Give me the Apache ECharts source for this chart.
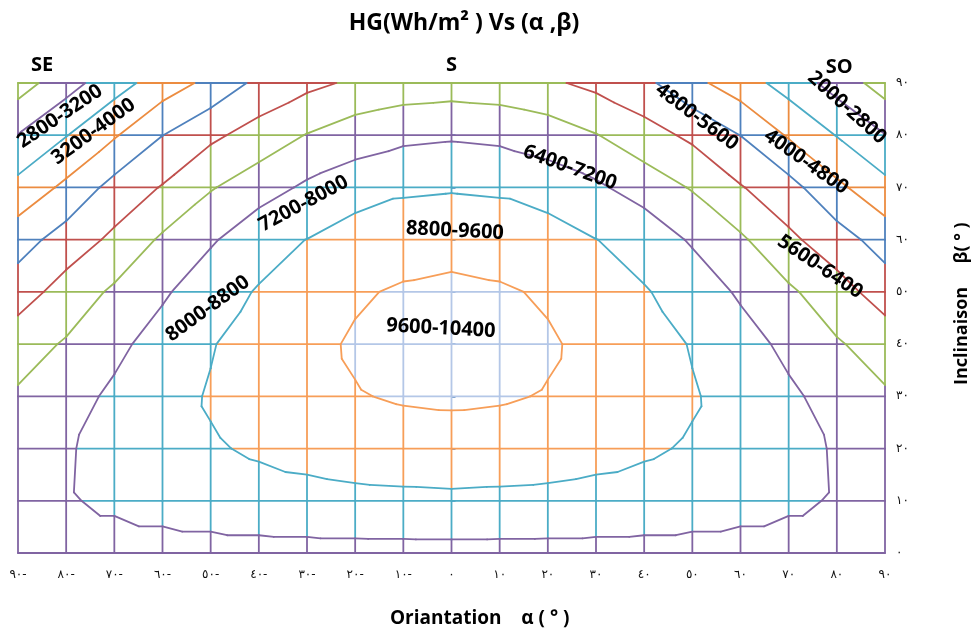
<!DOCTYPE html>
<html>
<head>
<meta charset="utf-8">
<title>HG vs orientation and inclination</title>
<script src="https://cdn.jsdelivr.net/npm/echarts@6/dist/echarts.min.js"></script>
<style>
  html, body { margin: 0; padding: 0; background: #ffffff; }
  #chart { width: 973px; height: 634px; }
</style>
</head>
<body>
<div id="chart"></div>
<script>
// Orientation (alpha, degrees) along x and inclination (beta, degrees) along y
const orientation = [-90, -80, -70, -60, -50, -40, -30, -20, -10, 0, 10, 20, 30, 40, 50, 60, 70, 80, 90];
const inclination = [0, 10, 20, 30, 40, 50, 60, 70, 80, 90];

// Tick labels (Arabic-Indic digits)
const xTickLabels = ['٩٠-', '٨٠-', '٧٠-', '٦٠-', '٥٠-', '٤٠-', '٣٠-', '٢٠-', '١٠-', '٠',
                     '١٠', '٢٠', '٣٠', '٤٠', '٥٠', '٦٠', '٧٠', '٨٠', '٩٠'];
const yTickLabels = ['٠', '١٠', '٢٠', '٣٠', '٤٠', '٥٠', '٦٠', '٧٠', '٨٠', '٩٠'];

// HG (Wh/m²) for each inclination row, one value per orientation
const hgBeta0  = [7770, 7770, 7770, 7770, 7770, 7770, 7770, 7770, 7770, 7770, 7770, 7770, 7770, 7770, 7770, 7770, 7770, 7770, 7770];
const hgBeta10 = [7680, 7956, 8094, 8221, 8331, 8446, 8512, 8591, 8622, 8655, 8622, 8591, 8512, 8446, 8331, 8221, 8094, 7956, 7680];
const hgBeta20 = [7500, 7939, 8230, 8450, 8711, 8918, 9088, 9206, 9280, 9290, 9280, 9206, 9088, 8918, 8711, 8450, 8230, 7939, 7500];
const hgBeta30 = [7295, 7645, 8167, 8420, 8882, 9150, 9380, 9560, 9670, 9715, 9670, 9560, 9380, 9150, 8882, 8420, 8167, 7645, 7295];
const hgBeta40 = [6862, 7275, 7770, 8390, 8730, 9313, 9402, 9685, 9880, 9950, 9880, 9685, 9402, 9313, 8730, 8390, 7770, 7275, 6862];
const hgBeta50 = [6022, 6730, 7330, 7870, 8554, 8843, 9180, 9508, 9692, 9797, 9692, 9508, 9180, 8843, 8554, 7870, 7330, 6730, 6022];
const hgBeta60 = [5254, 5950, 6565, 7322, 7894, 8556, 8810, 9198, 9230, 9280, 9230, 9198, 8810, 8556, 7894, 7322, 6565, 5950, 5254];
const hgBeta70 = [4245, 4970, 5878, 6452, 7140, 7640, 8135, 8417, 8692, 8741, 8692, 8417, 8135, 7640, 7140, 6452, 5878, 4970, 4245];
const hgBeta80 = [3224, 3970, 4719, 5590, 6238, 6729, 7236, 7631, 7816, 7899, 7816, 7631, 7236, 6729, 6238, 5590, 4719, 3970, 3224];
const hgBeta90 = [2030, 2885, 3677, 4380, 5011, 5800, 6204, 6525, 6754, 6824, 6754, 6525, 6204, 5800, 5011, 4380, 3677, 2885, 2030];

// Band width of the contour levels and the colour of each band (index = floor(HG / bandStep))
const bandStep = 800;
const bandColors = ['#4F81BD', '#C0504D', '#9BBB59', '#8064A2', '#4BACC6', '#EC8C40',
                    '#4F81BD', '#C0504D', '#9BBB59', '#8064A2', '#4BACC6', '#F79E58', '#B4C7E7'];

// Band annotations drawn on the chart
const bandLabels = ['2800-3200', '3200-4000', '7200-8000', '8800-9600', '9600-10400', '6400-7200',
                    '4800-5600', '2000-2800', '4000-4800', '5600-6400', '8000-8800'];
const compassLabels = ['SE', 'S', 'SO'];

// Placement of annotations: [alpha, beta, rotation in degrees]
const bandLabelPlacement = [
  [-81.3, 83.6, 34], [-74.3, 80.7, 36], [-30.7, 66.9, 28], [0.7, 61.7, -3], [-2.2, 43.0, -3],
  [24.6, 73.8, -20], [50.9, 83.5, -37], [82.1, 85.3, -42], [73.6, 74.9, -35], [76.5, 54.8, -34],
  [-50.6, 46.8, 36]
];
const compassPlacement = [[-85.0, 93.4], [0, 93.4], [80.5, 93.0]];

const hgGrid = [hgBeta0, hgBeta10, hgBeta20, hgBeta30, hgBeta40, hgBeta50, hgBeta60, hgBeta70, hgBeta80, hgBeta90];

function bandOf(z) { return Math.floor(z / bandStep); }

// Wireframe: each grid edge is split where it crosses a band boundary and coloured by band
const segments = [];
function addEdge(a1, b1, z1, a2, b2, z2) {
  const lo = Math.min(z1, z2), hi = Math.max(z1, z2);
  const ts = [0, 1];
  for (let L = Math.ceil(lo / bandStep) * bandStep; L < hi; L += bandStep) {
    if (L > lo) ts.push((L - z1) / (z2 - z1));
  }
  ts.sort((p, q) => p - q);
  for (let k = 0; k < ts.length - 1; k++) {
    const t0 = ts[k], t1 = ts[k + 1];
    const zm = z1 + (z2 - z1) * (t0 + t1) / 2;
    segments.push([a1 + (a2 - a1) * t0, b1 + (b2 - b1) * t0,
                   a1 + (a2 - a1) * t1, b1 + (b2 - b1) * t1, bandOf(zm)]);
  }
}
for (let j = 0; j < inclination.length; j++) {
  for (let i = 0; i < orientation.length - 1; i++) {
    addEdge(orientation[i], inclination[j], hgGrid[j][i], orientation[i + 1], inclination[j], hgGrid[j][i + 1]);
  }
}
for (let i = 0; i < orientation.length; i++) {
  for (let j = 0; j < inclination.length - 1; j++) {
    addEdge(orientation[i], inclination[j], hgGrid[j][i], orientation[i], inclination[j + 1], hgGrid[j + 1][i]);
  }
}

// Contour lines: every cell is split into two triangles, interpolated linearly
function node(i, j) { return [orientation[i], inclination[j], hgGrid[j][i]]; }
function addTriangle(tri) {
  const zs = tri.map(p => p[2]);
  const lo = Math.min(...zs), hi = Math.max(...zs);
  for (let L = Math.ceil(lo / bandStep) * bandStep; L < hi; L += bandStep) {
    if (L <= lo) continue;
    const pts = [];
    for (let e = 0; e < 3; e++) {
      const p = tri[e], q = tri[(e + 1) % 3];
      if ((p[2] - L) * (q[2] - L) < 0) {
        const t = (L - p[2]) / (q[2] - p[2]);
        pts.push([p[0] + (q[0] - p[0]) * t, p[1] + (q[1] - p[1]) * t]);
      }
    }
    if (pts.length === 2) {
      segments.push([pts[0][0], pts[0][1], pts[1][0], pts[1][1], L / bandStep - 1]);
    }
  }
}
for (let i = 0; i < orientation.length - 1; i++) {
  for (let j = 0; j < inclination.length - 1; j++) {
    const bl = node(i, j), br = node(i + 1, j), tl = node(i, j + 1), tr = node(i + 1, j + 1);
    if (orientation[i] < 0) {
      addTriangle([bl, br, tr]);
      addTriangle([bl, tr, tl]);
    } else {
      addTriangle([bl, br, tl]);
      addTriangle([br, tr, tl]);
    }
  }
}

const labelData = bandLabelPlacement.map((p, k) => [p[0], p[1], p[2], k]);
const compassData = compassPlacement.map((p, k) => [p[0], p[1], k]);

const chart = echarts.init(document.getElementById('chart'), null, { renderer: 'canvas' });
const labelFamily = '"Open Sans", "DejaVu Sans", sans-serif';

chart.setOption({
  animation: false,
  backgroundColor: '#ffffff',
  title: {
    text: 'HG(Wh/m² ) Vs (α ,β)',
    left: 459, top: 7, textAlign: 'center',
    textStyle: { fontFamily: labelFamily, fontWeight: 'bold', fontSize: 23, color: '#000' }
  },
  grid: { left: 18, top: 83, width: 867, height: 470 },
  xAxis: {
    type: 'value', min: -90, max: 90, interval: 10,
    axisLine: { show: false }, axisTick: { show: false }, splitLine: { show: false },
    axisLabel: {
      margin: 16, fontFamily: 'DejaVu Sans', fontSize: 12, color: '#111',
      formatter: v => xTickLabels[orientation.indexOf(v)]
    }
  },
  yAxis: {
    type: 'value', position: 'right', min: 0, max: 90, interval: 10,
    axisLine: { show: false },
    axisTick: { show: true, length: 4, lineStyle: { color: '#4F81BD', width: 1.5 } },
    splitLine: { show: false },
    axisLabel: {
      margin: 11, fontFamily: 'DejaVu Sans', fontSize: 12, color: '#111',
      formatter: v => yTickLabels[inclination.indexOf(v)]
    }
  },
  graphic: [
    { type: 'text', left: 390, top: 609,
      style: { text: 'Oriantation    α ( ° )', fontFamily: labelFamily, fontWeight: 'bold', fontSize: 19, fill: '#000' } },
    { type: 'text', x: 953, y: 385, rotation: Math.PI / 2,
      style: { text: 'Inclinaison     β( ° )', fontFamily: labelFamily, fontWeight: 'bold', fontSize: 18, fill: '#000' } }
  ],
  series: [
    {
      type: 'custom',
      coordinateSystem: 'cartesian2d',
      encode: { x: [0, 2], y: [1, 3] },
      progressive: 0,
      silent: true,
      data: segments,
      renderItem: (params, api) => {
        const p1 = api.coord([api.value(0), api.value(1)]);
        const p2 = api.coord([api.value(2), api.value(3)]);
        return {
          type: 'line',
          shape: { x1: p1[0], y1: p1[1], x2: p2[0], y2: p2[1] },
          style: { stroke: bandColors[api.value(4)], lineWidth: 1.8, lineCap: 'round' }
        };
      }
    },
    {
      type: 'custom',
      coordinateSystem: 'cartesian2d',
      encode: { x: 0, y: 1 },
      silent: true,
      z: 5,
      data: labelData,
      renderItem: (params, api) => {
        const p = api.coord([api.value(0), api.value(1)]);
        return {
          type: 'text', x: p[0], y: p[1], rotation: api.value(2) * Math.PI / 180,
          style: {
            text: bandLabels[api.value(3)], fontFamily: labelFamily, fontWeight: 'bold',
            fontSize: 20, fill: '#000', align: 'center', verticalAlign: 'middle'
          }
        };
      }
    },
    {
      type: 'custom',
      coordinateSystem: 'cartesian2d',
      encode: { x: 0, y: 1 },
      silent: true,
      z: 5,
      data: compassData,
      renderItem: (params, api) => {
        const p = api.coord([api.value(0), api.value(1)]);
        return {
          type: 'text', x: p[0], y: p[1],
          style: {
            text: compassLabels[api.value(2)], fontFamily: labelFamily, fontWeight: 'bold',
            fontSize: 20, fill: '#000', align: 'center', verticalAlign: 'middle'
          }
        };
      }
    }
  ]
});
</script>
</body>
</html>
